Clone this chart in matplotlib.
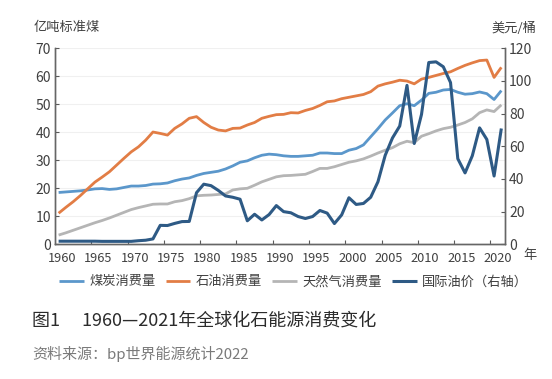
import matplotlib
matplotlib.use("Agg")
import matplotlib.pyplot as plt
import numpy as np

plt.rcParams['font.family'] = ['Noto Sans CJK SC', 'DejaVu Sans']

years = list(range(1960, 2022))
coal = [18.5, 18.7, 18.9, 19.1, 19.4, 19.8, 19.9, 19.6, 19.8, 20.3,
        20.8, 20.8, 21.0, 21.5, 21.6, 21.9, 22.7, 23.3, 23.7, 24.6,
        25.3, 25.7, 26.1, 26.9, 28.0, 29.3, 29.8, 30.9, 31.8, 32.2,
        32.0, 31.6, 31.4, 31.4, 31.6, 31.8, 32.6, 32.6, 32.4, 32.4,
        33.6, 34.2, 35.5, 38.4, 41.3, 44.4, 46.9, 49.5, 50.2, 49.5,
        51.5, 53.9, 54.3, 55.1, 55.3, 54.3, 53.6, 53.8, 54.4, 53.8,
        51.7, 54.9]
oil = [11.1, 13.2, 15.2, 17.4, 19.8, 22.2, 24.0, 25.9, 28.3, 30.7,
       33.0, 34.8, 37.2, 40.1, 39.6, 39.0, 41.4, 43.0, 45.0, 45.6,
       43.5, 41.8, 40.8, 40.5, 41.4, 41.5, 42.6, 43.5, 45.0, 45.7,
       46.3, 46.4, 47.0, 46.9, 47.8, 48.5, 49.6, 50.9, 51.2, 52.0,
       52.5, 53.0, 53.5, 54.5, 56.5, 57.3, 57.9, 58.6, 58.3, 57.3,
       59.0, 59.6, 60.3, 61.0, 61.6, 62.8, 63.9, 64.8, 65.6, 65.8,
       59.6, 63.2]
gas = [3.3, 4.1, 5.0, 5.9, 6.8, 7.7, 8.5, 9.4, 10.4, 11.4,
       12.4, 13.1, 13.7, 14.3, 14.4, 14.4, 15.2, 15.6, 16.3, 17.3,
       17.5, 17.6, 17.8, 18.0, 19.4, 19.8, 20.0, 21.1, 22.3, 23.2,
       24.1, 24.5, 24.6, 24.8, 25.0, 26.0, 27.1, 27.1, 27.7, 28.5,
       29.3, 29.8, 30.5, 31.5, 32.6, 33.6, 34.5, 35.9, 36.8, 36.3,
       38.6, 39.5, 40.5, 41.3, 41.8, 42.6, 43.5, 44.8, 47.0, 48.0,
       47.4, 49.8]
price = [1.9, 1.9, 1.9, 1.9, 1.9, 1.9, 1.8, 1.8, 1.8, 1.8,
         1.8, 2.2, 2.5, 3.3, 11.6, 11.5, 12.8, 13.9, 14.0, 31.6,
         36.8, 35.9, 33.0, 29.6, 28.8, 27.6, 14.4, 18.4, 14.9, 18.2,
         23.7, 20.0, 19.3, 17.0, 15.8, 17.0, 20.7, 19.1, 12.7, 18.0,
         28.5, 24.4, 25.0, 28.8, 38.3, 54.5, 65.1, 72.4, 97.3, 61.7,
         79.5, 111.3, 111.7, 108.7, 99.0, 52.4, 43.7, 54.2, 71.3, 64.2,
         41.8, 70.9]

names = ['煤炭消费量', '石油消费量', '天然气消费量', '国际油价（右轴）']
colors = ['#5B97CB', '#E27D45', '#B5B5B5', '#2E5A85']
label_years = list(range(1960, 2021, 5))

fig = plt.figure(figsize=(5.52, 3.79), dpi=100)
ax = fig.add_axes([0.0996, 0.3554, 0.8152, 0.5172])
ax2 = ax.twinx()

l1, = ax.plot(years, coal, color=colors[0], lw=2.0, solid_capstyle='butt')
l2, = ax.plot(years, oil, color=colors[1], lw=2.0, solid_capstyle='butt')
l3, = ax.plot(years, gas, color=colors[2], lw=2.0, solid_capstyle='butt')
l4, = ax2.plot(years, price, color=colors[3], lw=2.2, solid_capstyle='butt')

ax.set_xlim(1959.5, 2021.5)
ax.set_ylim(0, 70)
ax2.set_ylim(0, 120)
ax.set_yticks(range(0, 71, 10))
ax2.set_yticks(range(0, 121, 20))

ax.grid(axis='y', color='#F0F0F0', lw=0.8)
ax.set_axisbelow(True)

# tick marks at category boundaries, labels at category centres
ax.set_xticks([y - 0.5 for y in label_years[1:]])
ax.set_xticklabels([])
ax.set_xticks([y + 0.5 for y in label_years], minor=True)
ax.set_xticklabels([str(y) for y in label_years], minor=True)
ax.tick_params(axis='x', which='minor', length=0, pad=5.5)
ax.tick_params(axis='x', which='major', direction='in', length=3, color='#595959')

tc = '#404040'
for a in (ax, ax2):
    a.spines['top'].set_visible(False)
    for s in ('left', 'right', 'bottom'):
        a.spines[s].set_color('#666666')
        a.spines[s].set_linewidth(1.0)
    a.tick_params(axis='y', direction='in', length=3, color='#595959',
                  labelsize=10, labelcolor=tc, pad=3)
ax.tick_params(axis='x', which='both', labelsize=9.2, labelcolor=tc)

fig.text(0.060, 0.928, '亿吨标准煤', fontsize=9.5, color=tc, ha='left', va='center')
fig.text(0.891, 0.926, '美元/桶', fontsize=9.5, color=tc, ha='left', va='center')
fig.text(0.960, 0.327, '年', fontsize=9.5, color=tc, ha='center', va='center')

fig.legend([l1, l2, l3, l4], names, loc='center', bbox_to_anchor=(0.532, 0.256),
           ncol=4, frameon=False, fontsize=9.5, handlelength=1.85,
           handletextpad=0.4, columnspacing=0.8, labelcolor=tc)

fig.text(0.058, 0.155, '图1\u3000 1960—2021年全球化石能源消费变化', fontsize=13,
         color='#2B2B2B', ha='left', va='center', fontweight='medium')
fig.text(0.058, 0.066, '资料来源：bp世界能源统计2022', fontsize=10.8,
         color='#7A7A7A', ha='left', va='center')

fig.savefig('out.png', dpi=100)
